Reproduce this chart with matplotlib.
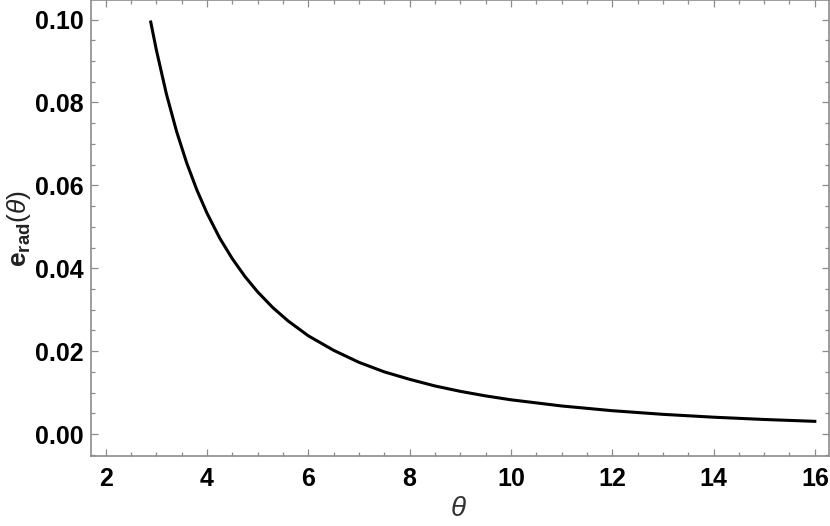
import matplotlib
matplotlib.use("Agg")
import matplotlib.pyplot as plt
from matplotlib.ticker import MultipleLocator

# values
theta = [2.89, 3.0, 3.2, 3.4, 3.6, 3.8, 4.0, 4.25, 4.5, 4.75, 5.0, 5.3, 5.6,
         6.0, 6.5, 7.0, 7.5, 8.0, 8.5, 9.0, 9.5, 10.0, 11.0, 12.0, 13.0,
         14.0, 15.0, 16.0]
e_rad = [0.0994, 0.0927, 0.0820, 0.0730, 0.0654, 0.0589, 0.0533, 0.0473,
         0.0423, 0.0380, 0.0343, 0.0305, 0.0273, 0.0237, 0.0202, 0.0173,
         0.0150, 0.0132, 0.0116, 0.0103, 0.0092, 0.00826, 0.00677, 0.00563,
         0.00475, 0.00406, 0.00351, 0.00306]

plt.rcParams['font.family'] = ['Liberation Sans', 'DejaVu Sans']
plt.rcParams['mathtext.fontset'] = 'custom'
plt.rcParams['mathtext.rm'] = 'Liberation Sans'
plt.rcParams['mathtext.it'] = 'Liberation Sans:italic'
plt.rcParams['mathtext.bf'] = 'Liberation Sans:bold'

fig = plt.figure(figsize=(8.30, 5.26), dpi=100)
ax = fig.add_axes([0.1096, 0.1331, 0.8892, 0.8660])

ax.plot(theta, e_rad, color='black', lw=2.2)

ax.set_xlim(1.71, 16.28)
ax.set_ylim(-0.0053, 0.1046)

ax.xaxis.set_major_locator(MultipleLocator(2))
ax.xaxis.set_minor_locator(MultipleLocator(0.5))
ax.yaxis.set_major_locator(MultipleLocator(0.02))
ax.yaxis.set_minor_locator(MultipleLocator(0.005))
ax.yaxis.set_major_formatter(plt.FormatStrFormatter('%.2f'))

frame = '#8c8c8c'
for s in ax.spines.values():
    s.set_color(frame)
    s.set_linewidth(1.2)
ax.tick_params(which='both', direction='in', top=True, right=True,
               color=frame, width=0.9)
ax.tick_params(which='major', length=5, labelsize=18)
ax.tick_params(axis='x', which='major', pad=8)
ax.tick_params(axis='y', which='major', pad=5)
ax.tick_params(which='minor', length=3)
for lab in ax.get_xticklabels() + ax.get_yticklabels():
    lab.set_fontweight('bold')

fig.text(0.552, 0.032, r'$\theta$', fontsize=20, color='#333333',
         ha='center', va='center')
fig.text(0.023, 0.565, r'$\mathbf{e}_{\mathbf{rad}}(\theta)$', rotation=90,
         fontsize=19, color='#222222', ha='center', va='center')

fig.savefig('out.png', dpi=100)
